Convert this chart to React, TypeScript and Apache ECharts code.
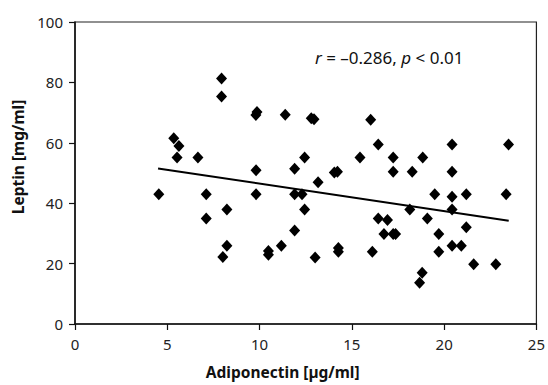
import React, { useEffect, useRef } from "react";
import * as echarts from "echarts";

const points: [number, number][] = [
  [4.54, 43], [5.35, 61.5], [5.63, 58.9], [5.53, 55.1], [6.66, 55.1],
  [7.11, 43], [7.11, 34.9], [7.94, 81.3], [7.94, 75.3], [8.01, 22.2],
  [8.23, 37.9], [8.23, 25.9], [9.86, 70.2], [9.8, 69.2], [9.81, 50.9],
  [9.81, 43], [10.48, 24.2], [10.48, 22.9], [11.18, 25.9], [11.39, 69.3],
  [11.9, 51.4], [11.9, 43], [11.9, 31], [12.3, 43], [12.44, 55.1],
  [12.44, 37.9], [12.8, 68.1], [12.95, 67.8], [13.01, 22], [13.17, 46.9],
  [14.05, 50.2], [14.22, 50.4], [14.27, 25.2], [14.27, 23.9], [15.44, 55.1],
  [16.02, 67.6], [16.11, 23.9], [16.43, 59.4], [16.43, 34.9], [16.93, 34.4],
  [16.74, 29.8], [17.24, 55.1], [17.24, 50.4], [17.24, 29.8], [17.37, 29.8],
  [18.14, 37.9], [18.27, 50.4], [18.67, 13.7], [18.81, 17], [18.84, 55.1],
  [19.09, 34.9], [19.49, 43], [19.71, 29.8], [19.71, 23.9], [20.43, 59.4],
  [20.43, 50.4], [20.43, 42.1], [20.43, 37.9], [20.43, 25.9], [20.93, 25.9],
  [21.2, 43], [21.2, 32], [21.6, 19.8], [22.8, 19.8], [23.36, 43],
  [23.49, 59.4],
];

const trendLine: [number, number][] = [
  [4.5, 51.5],
  [23.5, 34.2],
];

const xTitle = "Adiponectin [µg/ml]";
const yTitle = "Leptin [mg/ml]";

const FONT = "'Noto Sans', 'Open Sans', sans-serif";

export default function App() {
  const ref = useRef<HTMLDivElement>(null);
  useEffect(() => {
    if (!ref.current) return;
    const chart = echarts.init(ref.current, null, { renderer: "svg" });
    chart.setOption({
      animation: false,
      backgroundColor: "#fff",
      textStyle: { fontFamily: FONT },
      grid: {
        left: 75,
        right: 10,
        top: 22,
        bottom: 58,
        show: true,
        borderColor: "#222",
        borderWidth: 1.2,
      },
      xAxis: {
        type: "value",
        min: 0,
        max: 25,
        interval: 5,
        name: xTitle,
        nameLocation: "middle",
        nameGap: 40,
        nameTextStyle: {
          fontSize: 15.5,
          fontWeight: "bold",
          color: "#111",
          fontFamily: FONT,
          padding: [0, 46, 0, 0],
        },
        axisLine: { show: true, lineStyle: { color: "#111", width: 1.5 } },
        axisTick: { show: true, length: 6, lineStyle: { color: "#111", width: 1.2 } },
        axisLabel: { fontSize: 15, color: "#222", margin: 12, fontFamily: FONT },
        splitLine: { show: false },
      },
      yAxis: {
        type: "value",
        min: 0,
        max: 100,
        interval: 20,
        name: yTitle,
        nameLocation: "middle",
        nameGap: 47,
        nameTextStyle: {
          fontSize: 15.5,
          fontWeight: "bold",
          color: "#111",
          fontFamily: FONT,
          padding: [0, 0, 0, 32],
        },
        axisLine: { show: true, lineStyle: { color: "#111", width: 1.5 } },
        axisTick: { show: true, length: 6, lineStyle: { color: "#111", width: 1.2 } },
        axisLabel: { fontSize: 15, color: "#222", margin: 12, fontFamily: FONT },
        splitLine: { show: false },
      },
      series: [
        {
          type: "scatter",
          data: points,
          symbol: "diamond",
          symbolSize: [11, 12],
          itemStyle: { color: "#000", opacity: 1 },
          z: 3,
        },
        {
          type: "line",
          data: trendLine,
          symbol: "none",
          lineStyle: { color: "#000", width: 2 },
          z: 2,
        },
      ],
      graphic: [
        {
          type: "text",
          left: 315,
          top: 49,
          style: {
            text: "{i|r} = –0.286, {i|p} < 0.01",
            fill: "#111",
            font: `17px ${FONT}`,
            rich: {
              i: { fontStyle: "italic", fontSize: 17, fontFamily: FONT, fill: "#111" },
            },
          },
        },
      ],
    });
    return () => chart.dispose();
  }, []);
  return (
    <div
      ref={ref}
      style={{ position: "fixed", left: 0, top: 0, width: 548, height: 385 }}
    />
  );
}
